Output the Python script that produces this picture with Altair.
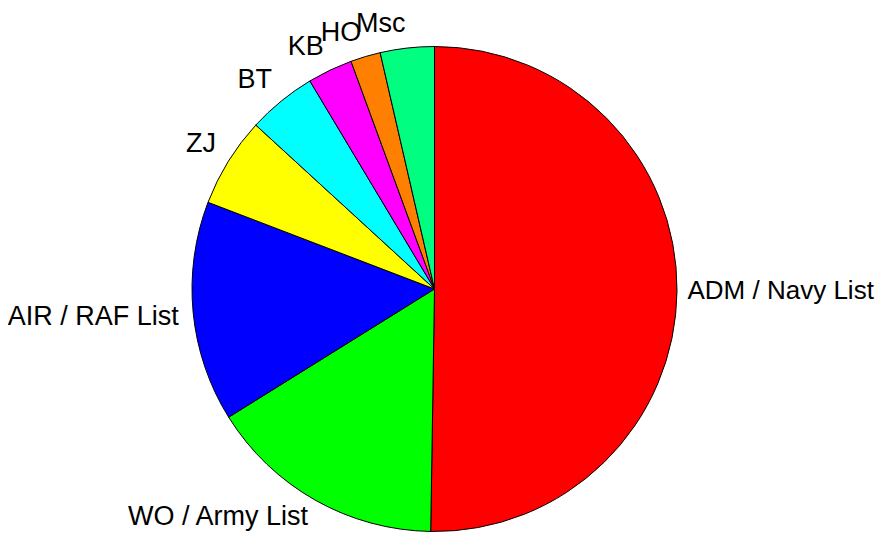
import altair as alt
import pandas as pd

labels = ["ADM / Navy List", "WO / Army List", "AIR / RAF List", "ZJ", "BT", "KB", "HO", "Msc"]
values = [50.3, 15.9, 14.7, 6.0, 4.6, 3.0, 2.0, 3.6]
colors = ["#FF0000", "#00FF00", "#0000FF", "#FFFF00", "#00FFFF", "#FF00FF", "#FF8000", "#00FF80"]

df = pd.DataFrame({"label": labels, "value": values, "idx": list(range(len(labels)))})

base = alt.Chart(df)

pie = base.mark_arc(outerRadius=242.5, stroke="black", strokeWidth=1).encode(
    theta=alt.Theta("value:Q", stack=True),
    color=alt.Color("label:N", scale=alt.Scale(domain=labels, range=colors), legend=None),
    order=alt.Order("idx:Q"),
)


def text_layer(subset, align, dx, dy, size=27):
    return base.mark_text(
        radius=257, align=align, baseline="middle", dx=dx, dy=dy,
        font="Liberation Sans", fontSize=size, color="black",
    ).encode(
        theta=alt.Theta("value:Q", stack=True),
        detail=alt.Detail("label:N"),
        order=alt.Order("idx:Q"),
        text=alt.condition(
            alt.FieldOneOfPredicate(field="label", oneOf=subset),
            alt.Text("label:N"),
            alt.value(""),
        ),
    )


t_right = text_layer(["ADM / Navy List"], "left", -4, 0, size=26)
t_bottom = text_layer(["WO / Army List"], "right", 0, 4)
t_left = text_layer(["AIR / RAF List"], "right", 0, 3)
t_top = text_layer(["ZJ", "BT", "KB", "HO", "Msc"], "right", 0, -10)

chart = alt.layer(pie, t_right, t_bottom, t_left, t_top).properties(
    width=853,
    height=490,
    padding={"left": 0, "top": 36, "right": 18, "bottom": 0},
    autosize=alt.AutoSizeParams(type="none"),
).configure_view(stroke=None)

chart.save("out.html", embed_options={"renderer": "svg", "actions": False})
